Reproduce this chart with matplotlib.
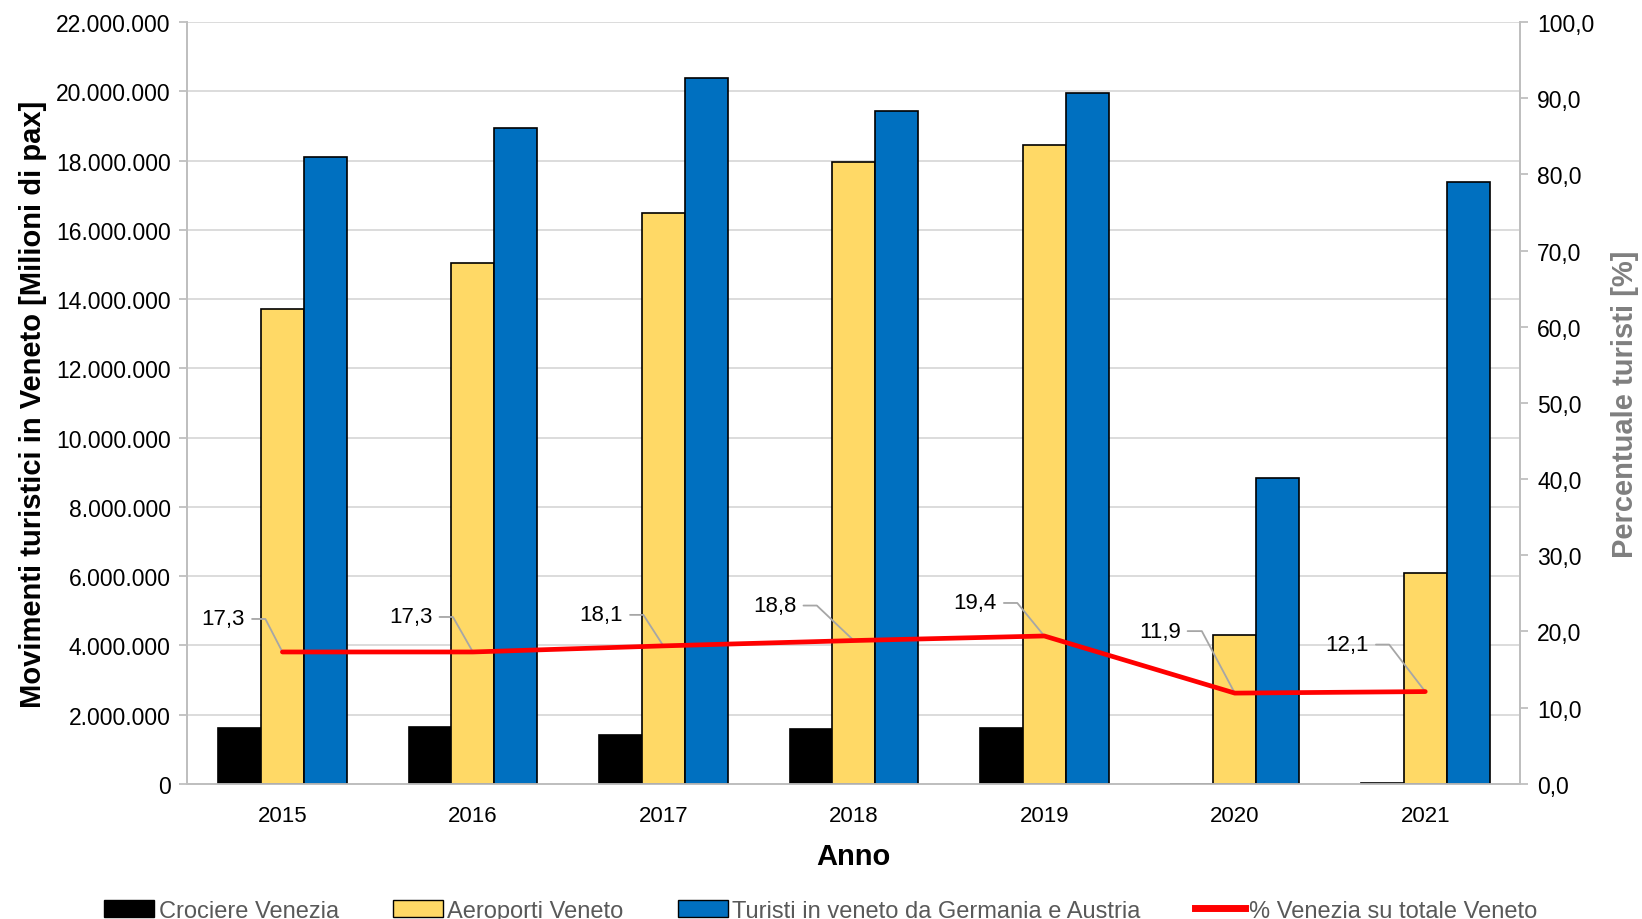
import numpy as np
import matplotlib
matplotlib.use("Agg")
import matplotlib.pyplot as plt
from matplotlib.patches import Patch
from matplotlib.lines import Line2D

# data
anni = ["2015", "2016", "2017", "2018", "2019", "2020", "2021"]
crociere_venezia = [1600000, 1630000, 1420000, 1570000, 1600000, 5000, 30000]
aeroporti_veneto = [13720000, 15050000, 16470000, 17950000, 18460000, 4290000, 6100000]
turisti_de_at = [18100000, 18950000, 20370000, 19430000, 19950000, 8820000, 17380000]
perc_venezia = [17.3, 17.3, 18.1, 18.8, 19.4, 11.9, 12.1]

# label placement (text centre offset from the point, in pixels)
label_offsets = [(-59, 33), (-62, 35), (-62, 31), (-79, 35), (-69, 33), (-75, 62), (-78, 47)]

plt.rcParams['font.family'] = ['Liberation Sans', 'DejaVu Sans']

fig = plt.figure(figsize=(16.42, 9.2), dpi=100)
ax = fig.add_axes([0.114, 0.147, 0.812, 0.828])
ax2 = ax.twinx()

x = np.arange(len(anni))
w = 0.225
ax.bar(x - w, crociere_venezia, w, color='#000000', edgecolor='#000000', lw=1.2, zorder=3)
ax.bar(x, aeroporti_veneto, w, color='#FFD966', edgecolor='#000000', lw=1.2, zorder=3)
ax.bar(x + w, turisti_de_at, w, color='#0070C0', edgecolor='#000000', lw=1.2, zorder=3)

ax.set_xlim(-0.5, len(anni) - 0.5)
ax.set_ylim(0, 22000000)
ax.set_yticks(np.arange(0, 22000001, 2000000))
ax.set_yticklabels([f"{int(v):,}".replace(',', '.') for v in ax.get_yticks()])
ax.set_xticks(x)
ax.set_xticklabels(anni)
ax.grid(axis='y', color='#d9d9d9', lw=1.3, zorder=0)
ax.set_axisbelow(True)

ax2.plot(x, perc_venezia, color='#FF0000', lw=3.4, solid_capstyle='round', zorder=4)
ax2.set_ylim(0, 100)
ax2.set_yticks(np.arange(0, 101, 10))
ax2.set_yticklabels([f"{v:.1f}".replace('.', ',') for v in ax2.get_yticks()])

for xi, p, (ox, oy) in zip(x, perc_venezia, label_offsets):
    corner_dx = ox + 22 + 20
    ang = np.degrees(np.arctan2(oy, corner_dx))
    ax2.annotate(f"{p:.1f}".replace('.', ','), xy=(xi, p), xytext=(ox, oy),
                 textcoords='offset pixels', ha='center', va='center', fontsize=16,
                 arrowprops=dict(arrowstyle='-', color='#a6a6a6', lw=1.3, shrinkA=3, shrinkB=0,
                                 relpos=(1, 0.5),
                                 connectionstyle=f"angle,angleA=0,angleB={ang:.1f},rad=0"))

for a in (ax, ax2):
    for s in a.spines.values():
        s.set_color('#bfbfbf')
        s.set_linewidth(1.3)
    a.spines['top'].set_visible(False)
ax.tick_params(axis='y', colors='#bfbfbf', labelcolor='black', labelsize=16.5, length=6, width=1.3, pad=6)
ax.tick_params(axis='x', length=0, labelsize=16, pad=15)
ax2.tick_params(axis='y', colors='#bfbfbf', labelcolor='black', labelsize=16.5, length=6, width=1.3, pad=6)

ax.set_xlabel("Anno", fontsize=21, fontweight='bold', labelpad=12)
ax.set_ylabel("Movimenti turistici in Veneto [Milioni di pax]", fontsize=21,
              fontweight='bold', labelpad=6)
ax2.set_ylabel("Percentuale turisti [%]", fontsize=21, fontweight='bold',
               color='#7f7f7f', labelpad=12)

handles = [Patch(facecolor='#000000', edgecolor='#000000'),
           Patch(facecolor='#FFD966', edgecolor='#000000'),
           Patch(facecolor='#0070C0', edgecolor='#000000'),
           Line2D([], [], color='#FF0000', lw=5)]
labels = ["Crociere Venezia", "Aeroporti Veneto", "Turisti in veneto da Germania e Austria",
          "% Venezia su totale Veneto"]
fig.legend(handles, labels, loc='center', bbox_to_anchor=(0.5, 0.009), ncol=4, frameon=False,
           prop={'size': 17}, labelcolor='#595959',
           handlelength=2.1, handleheight=0.7, handletextpad=0.2, columnspacing=2.3)

fig.savefig("out.png", dpi=100)
